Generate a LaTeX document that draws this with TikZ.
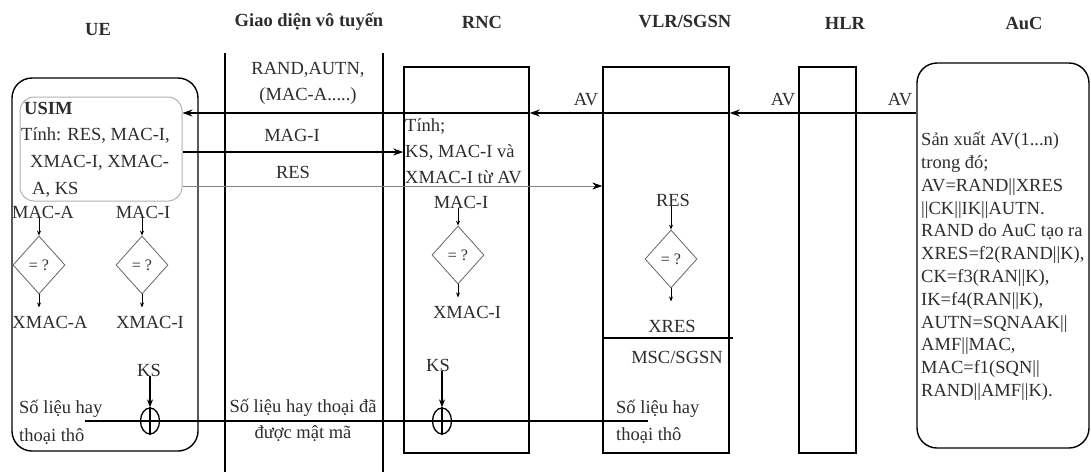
\documentclass[tikz,border=0pt]{standalone}
\usepackage{fontspec}
\setmainfont{Liberation Serif}
\usetikzlibrary{shapes.geometric,arrows.meta}
\definecolor{txtc}{RGB}{45,45,45}
\begin{document}
\begin{tikzpicture}[x=1pt,y=-1pt,
  txt/.style={inner sep=0pt, text=txtc, font=\fontsize{18.5}{22}\selectfont},
  hdr/.style={inner sep=0pt, text=txtc, font=\bfseries\fontsize{18.5}{22}\selectfont},
  box/.style={draw, line width=1.4pt, inner sep=0pt},
  rbox/.style={box, rounded corners=20pt},
  arr/.style={line width=1.2pt, -{Stealth[length=10pt,width=7pt]}},
  marr/.style={line width=1.1pt, -{Stealth[length=8pt,width=6pt]}},
  sarr/.style={line width=0.9pt, -{Stealth[length=5pt,width=4pt]}},
  cmp/.style={draw=gray!80!black, line width=0.8pt, shape=diamond, minimum width=52pt, minimum height=58pt, inner sep=0pt, text=txtc, font=\fontsize{16}{16}\selectfont},
  xorc/.style={draw, line width=1.3pt, ellipse, minimum width=19pt, minimum height=26pt, inner sep=0pt},
  rline/.style={line width=1.4pt}
]
\fill[white] (0,0) rectangle (1091,472);
\useasboundingbox (0,0) rectangle (1091,472);

% headers
\node[hdr] (hUE) at (98,30) {UE};
\node[hdr] (hGD) at (309,22) {Giao diện vô tuyến};
\node[hdr] (hRNC) at (482,22) {RNC};
\node[hdr] (hVLR) at (685,22) {VLR/SGSN};
\node[hdr] (hHLR) at (845,23) {HLR};
\node[hdr] (hAuC) at (1024,23) {AuC};

% radio interface lines
\coordinate (g1t) at (225,53); \coordinate (g1b) at (225,472);
\coordinate (g2t) at (383,53); \coordinate (g2b) at (383,472);
\draw[rline] (g1t) -- (g1b);
\draw[rline] (g2t) -- (g2b);

% boxes
\node[rbox, minimum width=186pt, minimum height=373pt] (ue) at (105,264.5) {};
\node[draw=gray!60, line width=1pt, rounded corners=14pt, inner sep=0pt, minimum width=162pt, minimum height=104pt] (usim) at (101,149) {};
\node[box, minimum width=125pt, minimum height=386pt] (rnc) at (466.5,260) {};
\node[box, minimum width=126pt, minimum height=386pt] (vlr) at (666,260) {};
\node[box, minimum width=57pt, minimum height=386pt] (hlr) at (827.5,260) {};
\node[rbox, minimum width=172pt, minimum height=385pt] (auc) at (1003,255.5) {};

% VLR divider
\coordinate (divy) at (0,338);
\draw[rline] (vlr.west |- divy) -- ([xshift=3pt]vlr.east |- divy);

% AV arrows
\coordinate (avy) at (0,113);
\draw[arr] (auc.west |- avy) -- (vlr.east |- avy);
\draw[arr] (vlr.east |- avy) -- (rnc.east |- avy);
\draw[arr] (rnc.east |- avy) -- (usim.east |- avy);
\node[txt] (av1) at (586,100) {AV};
\node[txt] (av2) at (783,100) {AV};
\node[txt] (av3) at (900,100) {AV};

% MAC-I and RES arrows
\coordinate (macy) at (0,152);
\coordinate (resy) at (0,186);
\draw[arr] (usim.east |- macy) -- (rnc.west |- macy);
\draw[gray, line width=0.8pt, -{Stealth[length=10pt,width=7pt,black]}] (usim.east |- resy) -- (vlr.west |- resy);

% radio labels
\node[txt] (r1) at (308,70) {RAND,AUTN,};
\node[txt] (r2) at (308,96) {(MAC-A.....)};
\node[txt] (r3) at (292,135) {MAG-I};
\node[txt] (r4) at (293,172) {RES};
\node[txt, align=center, font=\fontsize{18.5}{26}\selectfont] (r5) at (303,420) {Số liệu hay thoại đã\\được mật mã};

% USIM text
\node[txt, font=\bfseries\fontsize{18.5}{22}\selectfont, anchor=west] (t1) at (24,108) {USIM};
\node[txt, anchor=west] (t2) at (21,135) {Tính: RES, MAC-I,};
\node[txt, anchor=west] (t3) at (30,163) {XMAC-I, XMAC-};
\node[txt, anchor=west] (t4) at (32,190) {A, KS};

% UE comparisons
\node[txt] (ma) at (43,212) {MAC-A};
\node[cmp] (d1) at (39,265) {= ?};
\node[txt] (xma) at (50,322) {XMAC-A};
\draw[sarr] (ma.south -| d1) -- (d1.north);
\draw[sarr] (d1.south) -- ++(0,13);
\node[txt] (mi) at (143,212) {MAC-I};
\node[cmp] (d2) at (142,265) {= ?};
\node[txt] (xmi) at (150,322) {XMAC-I};
\draw[sarr] (mi.south -| d2) -- (d2.north);
\draw[sarr] (d2.south) -- ++(0,13);

% UE ciphering
\node[txt] (ks1) at (149,370) {KS};
\node[xorc] (x1) at (150,421) {};
\draw[line width=1.1pt] (x1.north) -- (x1.south) (x1.west) -- (x1.east);
\draw[marr] (ks1.south -| x1) -- (x1.north);
\node[txt, align=left, anchor=north west, font=\fontsize{18.5}{28}\selectfont] (sl1) at (19,400) {Số liệu hay\\thoại thô};

% RNC
\node[txt, align=left, anchor=north west, font=\fontsize{18.5}{26}\selectfont] (rt) at (405,118) {Tính;\\KS, MAC-I và\\XMAC-I từ AV};
\node[txt] (rmac) at (461,202) {MAC-I};
\node[cmp] (d3) at (458,255) {= ?};
\node[txt] (rx) at (467,312) {XMAC-I};
\draw[sarr] (rmac.south -| d3) -- (d3.north);
\draw[sarr] (d3.south) -- ++(0,13);
\node[txt] (rks) at (438,365) {KS};
\node[xorc] (x2) at (442,421) {};
\draw[line width=1.1pt] (x2.north) -- (x2.south) (x2.west) -- (x2.east);
\draw[marr] (rks.south -| x2) -- (x2.north);

% VLR
\node[txt] (vres) at (673,200) {RES};
\node[cmp] (d4) at (671,259) {= ?};
\node[txt] (vx) at (672,326) {XRES};
\draw[sarr] (vres.south -| d4) -- (d4.north);
\draw[sarr] (d4.south) -- ++(0,13);
\node[txt] (vm) at (677,357) {MSC/SGSN};
\node[txt, align=left, anchor=north west, font=\fontsize{18.5}{27}\selectfont] (vs) at (616,400) {Số liệu hay\\thoại thô};

% data line
\coordinate (dA) at (85,421);
\coordinate (dB) at (648,421);
\draw[line width=1.2pt] (dA) -- (x1.west);
\draw[line width=1.2pt] (x1.east) -- (x2.west);
\draw[line width=1.2pt] (x2.east) -- (dB);

% AuC text
\node[txt, align=left, anchor=north west, font=\fontsize{18.5}{22.8}\selectfont] (at) at (921,132) {Sản xuất AV(1...n)\\trong đó;\\AV=RAND||XRES\\||CK||IK||AUTN.\\RAND do AuC tạo ra\\XRES=f2(RAND||K),\\CK=f3(RAN||K),\\IK=f4(RAN||K),\\AUTN=SQNAAK||\\AMF||MAC,\\MAC=f1(SQN||\\RAND||AMF||K).};
\end{tikzpicture}
\end{document}
